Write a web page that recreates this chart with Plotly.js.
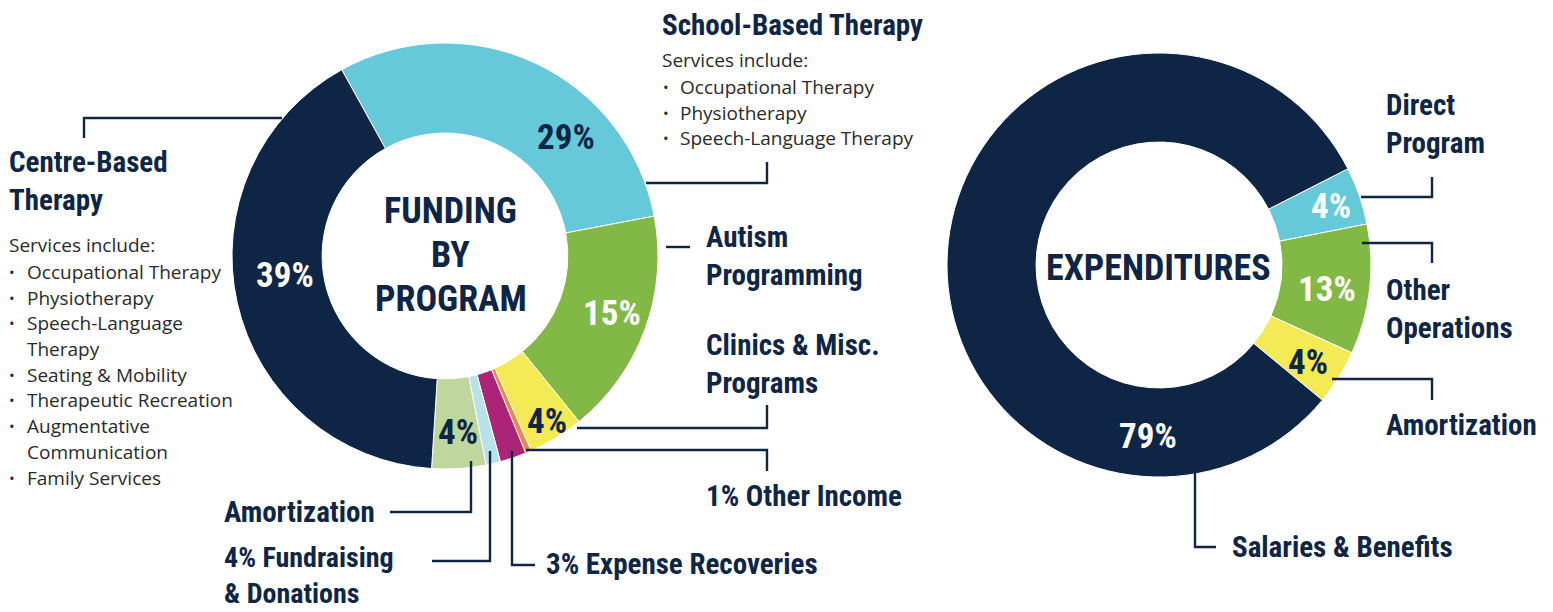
<!DOCTYPE html>
<html>
<head>
<meta charset="utf-8">
<script src="https://cdn.plot.ly/plotly-3.0.1.min.js"></script>
<style>html,body{margin:0;padding:0;background:#fff;}#chart{width:1553px;height:612px;}</style>
</head>
<body>
<div id="chart"></div>
<script>
// ---- DATA ----
var fundingLabels = ["School-Based Therapy", "Autism Programming", "Clinics & Misc. Programs", "Other Income", "Expense Recoveries", "Fundraising & Donations", "Amortization", "Centre-Based Therapy"];
var fundingValues = [30.1, 17.2, 4.2, 0.45, 2.0, 1.1, 4.1, 41.0];
var fundingText = ["29%", "15%", "4%", "", "", "", "4%", "39%"];

var expLabels = ["Direct Program", "Other Operations", "Amortization", "Salaries & Benefits"];
var expValues = [4.4, 9.9, 4.2, 81.5];
var expText = ["4%", "13%", "4%", "79%"];

var centreServices = ["Occupational Therapy", "Physiotherapy", "Speech-Language<br>Therapy", "Seating & Mobility", "Therapeutic Recreation", "Augmentative<br>Communication", "Family Services"];
var schoolServices = ["Occupational Therapy", "Physiotherapy", "Speech-Language Therapy"];

// ---- STYLE ----
var W = 1553, H = 612;
var NAVY = "#0f2545";
var BODY = "#2a2a2a";
var fundingColors = ["#66c9d9", "#82b845", "#f3ea55", "#e8894a", "#ac2478", "#b8e1ea", "#bfd69d", "#0f2545"];
var expColors = ["#66c9d9", "#82b845", "#f3ea55", "#0f2545"];
var HEAD = "Roboto Condensed, sans-serif";
var BODYF = "Open Sans, Noto Sans, sans-serif";
var BSIZE = 19;

function px(x){ return x / W; }
function py(y){ return 1 - y / H; }

var annotations = [];
function txt(x, y, text, opts){
  opts = opts || {};
  annotations.push({
    xref: "paper", yref: "paper", x: px(x), y: py(y), text: text, showarrow: false,
    xanchor: opts.xa || "left", yanchor: opts.ya || "middle", align: opts.align || "left",
    font: {family: opts.family || HEAD, size: opts.size || 29, color: opts.color || NAVY, weight: opts.weight || 700},
    borderpad: 0
  });
}
var shapes = [];
function path(pts){
  var d = "M" + pts.map(function(p){ return px(p[0]) + "," + py(p[1]); }).join(" L");
  shapes.push({type: "path", xref: "paper", yref: "paper", path: d, line: {color: NAVY, width: 2.4}, fillcolor: "rgba(0,0,0,0)"});
}
function body(x, y, t){ txt(x, y, t, {family: BODYF, size: BSIZE, color: BODY, weight: 400}); }
function bullet(x, y){ txt(x, y, "•", {family: BODYF, size: 15, color: BODY, weight: 400}); }

// Centre labels of donuts
txt(451, 211, "FUNDING", {xa: "center", size: 36});
txt(451, 255, "BY", {xa: "center", size: 36});
txt(451, 299, "PROGRAM", {xa: "center", size: 36});
txt(1158, 268, "EXPENDITURES", {xa: "center", size: 36});

// Percent labels
var fPos = [[566,138,NAVY],[612,313,"#fff"],[547,421,NAVY],null,null,null,[458,432,NAVY],[285,276,"#fff"]];
fundingText.forEach(function(t,i){ if(t && fPos[i]) txt(fPos[i][0], fPos[i][1], t, {xa:"center", size:35, color:fPos[i][2]}); });
var ePos = [[1331,206,"#fff"],[1327,289,"#fff"],[1308,362,NAVY],[1148,436,"#fff"]];
expText.forEach(function(t,i){ txt(ePos[i][0], ePos[i][1], t, {xa:"center", size:35, color:ePos[i][2]}); });

// Category labels (left chart)
txt(8, 162, "Centre-Based", {});
txt(8, 200, "Therapy", {});
body(8, 245, "Services include:");
var yy = 272, step = 25.7;
centreServices.forEach(function(s){
  var parts = s.split("<br>");
  bullet(8, yy);
  parts.forEach(function(p){ body(26, yy, p); yy += step; });
});

txt(661, 25, "School-Based Therapy", {});
body(661, 60, "Services include:");
schoolServices.forEach(function(s, i){
  bullet(662, 87 + i*25.7);
  body(679, 87 + i*25.7, s);
});

txt(705, 237, "Autism", {});
txt(705, 275, "Programming", {});
txt(705, 345, "Clinics & Misc.", {});
txt(705, 383, "Programs", {});
txt(705, 496, "1% " + fundingLabels[3], {});
txt(223, 512, fundingLabels[6], {});
txt(223, 611, "4% Fundraising<br>& Donations", {ya: "bottom", size: 28});
txt(545, 564, "3% " + fundingLabels[4], {});

// Right chart labels
txt(1385, 105, "Direct", {});
txt(1385, 143, "Program", {});
txt(1385, 290, "Other", {});
txt(1385, 328, "Operations", {});
txt(1385, 425, expLabels[2], {});
txt(1231, 547, expLabels[3], {});

// Leader lines
path([[84,138],[84,118],[282,118]]);
path([[646,183],[767,183],[767,162]]);
path([[666,247],[690,247]]);
path([[577,428],[767,428],[767,405]]);
path([[526,450],[767,450],[767,471]]);
path([[471,461],[471,512],[390,512]]);
path([[490,451],[490,561],[432,561]]);
path([[512,451],[512,565],[535,565]]);
path([[1361,197],[1432,197],[1432,177]]);
path([[1362,243],[1432,243],[1432,263]]);
path([[1332,379],[1432,379],[1432,400]]);
path([[1195,473],[1195,547],[1216,547]]);

var traces = [
  {
    type: "pie", labels: fundingLabels, values: fundingValues, hole: 0.577, sort: false,
    direction: "clockwise", rotation: -29, textinfo: "none", showlegend: false,
    marker: {colors: fundingColors, line: {color: "#fff", width: 1}},
    domain: {x: [232/W, 658/W], y: [143/H, 569/H]}
  },
  {
    type: "pie", labels: expLabels, values: expValues, hole: 0.58, sort: false,
    direction: "clockwise", rotation: 63, textinfo: "none", showlegend: false,
    marker: {colors: expColors, line: {color: "#fff", width: 1}},
    domain: {x: [947/W, 1371/W], y: [135/H, 559/H]}
  }
];

var layout = {
  width: W, height: H, margin: {l:0, r:0, t:0, b:0},
  paper_bgcolor: "#fff", plot_bgcolor: "#fff",
  showlegend: false, annotations: annotations, shapes: shapes
};
Plotly.newPlot("chart", traces, layout, {displayModeBar: false, staticPlot: true});
</script>
</body>
</html>
